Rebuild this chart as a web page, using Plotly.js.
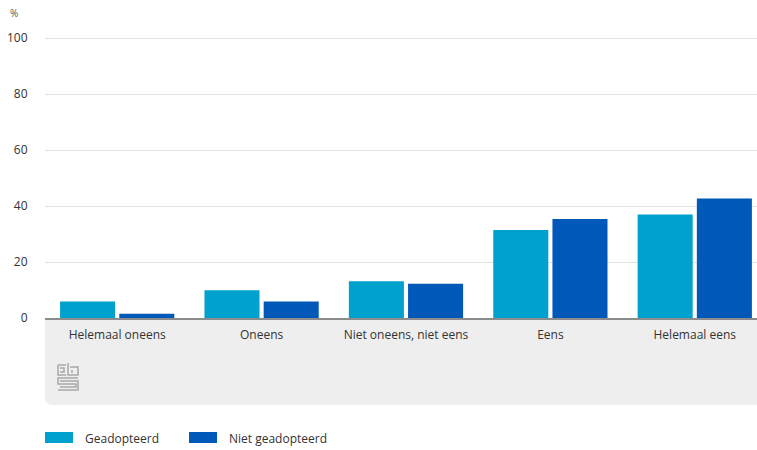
<!DOCTYPE html>
<html>
<head>
<meta charset="utf-8">
<script src="https://cdn.plot.ly/plotly-3.0.1.min.js"></script>
<style>html,body{margin:0;padding:0;background:#fff;}#chart{width:757px;height:450px;}</style>
</head>
<body>
<div id="chart"></div>
<script>
const categories = ["Helemaal oneens", "Oneens", "Niet oneens, niet eens", "Eens", "Helemaal eens"];
const seriesNames = ["Geadopteerd", "Niet geadopteerd"];
const geadopteerd = [5.9, 9.9, 13.1, 31.4, 37.0];
const nietGeadopteerd = [1.5, 5.9, 12.2, 35.4, 42.7];
const seriesColors = ["#00a1cd", "#0058b8"];
const yTicks = [0, 20, 40, 60, 80, 100];

const W = 757, H = 450;
const m = {l: 45, r: 0, t: 37, b: 132};
const pw = W - m.l - m.r, ph = H - m.t - m.b;
const px = x => (x - m.l) / pw;          // pixel -> paper x
const py = y => (H - m.b - y) / ph;      // pixel -> paper y

const fontFam = "'Open Sans', 'Noto Sans', sans-serif";

const traces = [geadopteerd, nietGeadopteerd].map((vals, i) => ({
  type: 'bar',
  x: categories,
  y: vals,
  name: seriesNames[i],
  marker: {color: seriesColors[i], line: {width: 0}},
  showlegend: false,
  hoverinfo: 'x+y+name'
}));

// gray footer box with rounded bottom-left corner
const r = 8;
const x0 = px(45), x1 = px(757), yTop = py(318), yBot = py(405);
const rx = r / pw, ry = r / ph;
const boxPath = `M ${x0} ${yTop} L ${x1} ${yTop} L ${x1} ${yBot} L ${x0 + rx} ${yBot} Q ${x0} ${yBot} ${x0} ${yBot + ry} Z`;

const shapes = [
  {type: 'path', xref: 'paper', yref: 'paper', path: boxPath, fillcolor: '#eeeeee', line: {width: 0}, layer: 'below'}
];

// small cbs-like logo mark
const logoStroke = {color: '#a8a8a8', width: 1.5};
const logoLines = [
  [[58, 365], [58, 375], [66, 375]],
  [[58, 365], [66, 365]],
  [[60, 368], [64, 368], [64, 372], [60, 372]],
  [[68, 363], [68, 375], [78, 375], [78, 367], [70, 367]],
  [[72, 370], [72, 373]],
  [[78, 378], [58, 378], [58, 384], [76, 384], [76, 387], [60, 387]],
  [[58, 390], [78, 390], [78, 381], [60, 381]]
];
logoLines.forEach(pts => {
  const d = pts.map((p, k) => (k ? 'L ' : 'M ') + px(p[0]) + ' ' + py(p[1])).join(' ');
  shapes.push({type: 'path', xref: 'paper', yref: 'paper', path: d, line: logoStroke, layer: 'above'});
});

// legend swatches
const legendX = [45, 189];
const annotations = [
  {xref: 'paper', yref: 'paper', x: px(8), y: py(13), text: '%', showarrow: false,
   xanchor: 'left', yanchor: 'middle', font: {size: 10, color: '#555', family: fontFam}}
];
seriesNames.forEach((n, i) => {
  shapes.push({type: 'rect', xref: 'paper', yref: 'paper',
    x0: px(legendX[i]), x1: px(legendX[i] + 28), y0: py(443), y1: py(432),
    fillcolor: seriesColors[i], line: {width: 0}});
  annotations.push({xref: 'paper', yref: 'paper', x: px(legendX[i] + 38), y: py(438), text: n,
    showarrow: false, xanchor: 'left', yanchor: 'middle',
    font: {size: 12, color: '#333', family: fontFam}});
});

const layout = {
  width: W, height: H,
  margin: m,
  paper_bgcolor: '#ffffff',
  plot_bgcolor: 'rgba(0,0,0,0)',
  barmode: 'group',
  bargap: 0.18,
  bargroupgap: 0.07,
  showlegend: false,
  font: {family: fontFam, color: '#333'},
  xaxis: {
    type: 'category',
    range: [-0.5, 4.431],
    showgrid: false,
    showline: true, linecolor: '#8c8c8c', linewidth: 2,
    ticks: 'outside', ticklen: 5, tickcolor: 'rgba(0,0,0,0)',
    tickfont: {size: 12, color: '#333', family: fontFam},
    zeroline: false,
    fixedrange: true
  },
  yaxis: {
    range: [0, 100.4],
    tickvals: yTicks,
    ticktext: yTicks.map(String),
    showgrid: true, gridcolor: '#e2e2e2', gridwidth: 1,
    zeroline: false, showline: false,
    ticks: 'outside', ticklen: 14, tickcolor: 'rgba(0,0,0,0)',
    tickfont: {size: 12, color: '#333', family: fontFam},
    fixedrange: true
  },
  shapes: shapes,
  annotations: annotations
};

Plotly.newPlot('chart', traces, layout, {displayModeBar: false, staticPlot: true});
</script>
</body>
</html>
